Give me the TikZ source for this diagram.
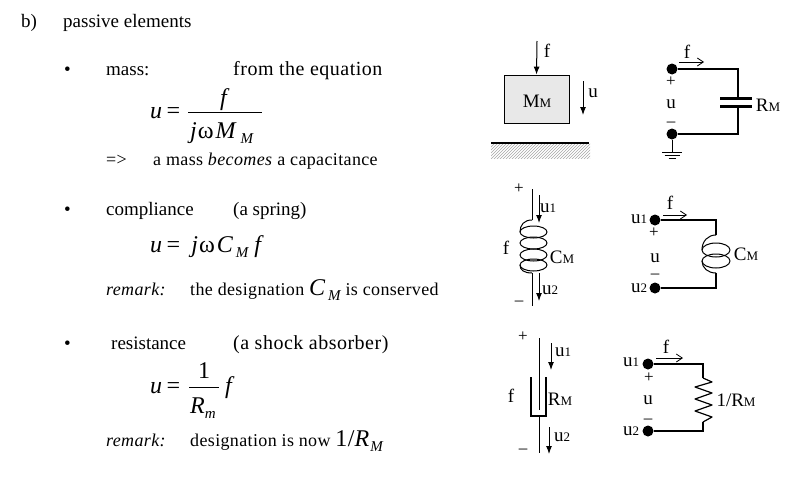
\documentclass[tikz,border=0pt]{standalone}
\usepackage{fontspec}
\setmainfont{Liberation Serif}
\usetikzlibrary{patterns,arrows.meta}

\newcommand{\bodyfont}{\fontsize{19}{22}\selectfont}
\newcommand{\widefont}{\fontsize{20}{22}\selectfont\addfontfeatures{LetterSpace=2.5}}
\newcommand{\notefont}{\fontsize{18}{20}\selectfont\addfontfeatures{LetterSpace=2}}
\newcommand{\eqnfont}{\fontsize{24}{28}\selectfont\itshape}
\newcommand{\subs}[1]{\kern3pt\raisebox{-5pt}{\fontsize{15}{17}\selectfont #1}}
\newcommand{\omg}{\kern1pt\upshape ω\itshape\kern2pt}
\newcommand{\lab}[2]{{\fontsize{19}{20}\selectfont #1\fontsize{13}{14}\selectfont #2}}

\begin{document}
\begin{tikzpicture}[x=1pt,y=-1pt,
txt/.style = {inner sep=0pt, anchor=base west, font=\bodyfont},
wide/.style = {inner sep=0pt, anchor=base west, font=\widefont},
small/.style = {inner sep=0pt, anchor=base west, font=\notefont},
eq/.style = {inner sep=0pt, anchor=base west, font=\eqnfont},
part/.style = {inner sep=0pt, font=\fontsize{19}{20}\selectfont},
sign/.style = {inner sep=0pt, font=\fontsize{17}{19}\selectfont},
term/.style = {circle, fill=black, inner sep=0pt, minimum size=11pt},
wire/.style = {draw, line width=1.4pt},
rod/.style = {draw, line width=1pt},
force/.style = {draw, line width=1pt, -{Latex[length=8pt,width=6pt]}},
motion/.style = {draw, line width=0.8pt, -{Straight Barb[length=6pt,width=8pt]}}]

\useasboundingbox (0,0) rectangle (800,485);

% text, left column
\node [txt] (bb) at (21,27) {b)};
\node [txt] (passive) at (63,27) {passive elements};
\foreach \n/\y in {bulla/75,bullb/215,bullc/349}
  \node [txt] (\n) at (64,\y) {•};

\node [txt] (mass) at (106,75) {mass:};
\node [wide] (from) at (233,75) {from the equation};
\node [eq] (ua) at (150,118) {u\kern3pt=};
\node [eq] (fa) at (220,105) {f};
\coordinate (bara) at (188,112);
\coordinate (barb) at (262,112);
\draw [line width=0.8pt] (bara) -- (barb);
\node [eq] (jw) at (190,138) {j\omg M\kern2pt\subs{M}};
\node [small] (impl) at (106,165) {=>};
\node [small] (becomes) at (153,165) {a mass \textit{becomes} a capacitance};

\node [txt] (compl) at (106,215) {compliance};
\node [txt] (spring) at (233,215) {(a spring)};
\node [eq] (ub) at (150,252) {u\kern3pt=\kern10pt j\omg C\subs{M}\kern6pt f};
\node [small] (rema) at (106,295) {\textit{remark:}};
\node [small] (desa) at (190,295) {the designation {\fontsize{24}{26}\selectfont\itshape C\subs{M}} is conserved};

\node [txt] (resist) at (111,349) {resistance};
\node [wide] (shock) at (233,349) {(a shock absorber)};
\node [eq] (uc) at (150,393) {u\kern3pt=};
\node [eq] (one) at (198,378) {\upshape 1};
\coordinate (barc) at (189,387);
\coordinate (bard) at (219,387);
\draw [line width=0.8pt] (barc) -- (bard);
\node [eq] (rm) at (190,413) {R\kern-3pt\subs{m}};
\node [eq] (fc) at (225,393) {f};
\node [small] (remb) at (106,446) {\textit{remark:}};
\node [small] (desb) at (190,446) {designation is now {\fontsize{24}{26}\selectfont 1/\itshape R\kern-2pt\subs{M}}};

% mass
\node [draw, line width=0.8pt, fill=black!9, minimum width=65pt, minimum height=48pt, inner sep=0pt] (block) at (536.5,99) {};
\node [part] (mm) at (537,101) {\lab{M}{M}};
\coordinate (fatop) at (537,41);
\path [force] (fatop) -- (block.north);
\node [part] (fb) at (547,51) {f};
\coordinate (uatop) at (583,81);
\coordinate (uabot) at (583,115);
\path [force] (uatop) -- (uabot);
\node [part] (ud) at (593,93) {u};
\coordinate (gla) at (491,143);
\coordinate (glb) at (589,143);
\fill [pattern=north east lines, pattern color=black!35] (491,143) rectangle (590,158);
\draw [line width=1.6pt] (gla) -- (glb);

% capacitor circuit
\node [term] (ta) at (672,69) {};
\node [term] (tb) at (672,134) {};
\coordinate (ca) at (738,69);
\coordinate (cb) at (738,134);
\coordinate (pa) at (738,98);
\coordinate (pb) at (738,106);
\path [wire] (ta) -- (ca) -- (pa);
\path [wire] (pb) -- (cb) -- (tb);
\draw [line width=3pt] (720,98) -- (752,98);
\draw [line width=3pt] (720,106) -- (752,106);
\node [part] (rma) at (768,105) {\lab{R}{M}};
\node [part] (fd) at (687,52) {f};
\coordinate (fea) at (679,62);
\coordinate (feb) at (704,62);
\path [motion] (fea) -- (feb);
\node [sign] (pla) at (671,82) {+};
\node [part] (ue) at (671,104) {u};
\node [sign] (mia) at (671,124) {–};
\coordinate (gnd) at (672,152);
\path [rod] (tb) -- (gnd);
\foreach \y/\w in {152/10,155/7.5,158/3.5}
  \draw [line width=0.7pt] (672-\w,\y) -- (672+\w,\y);

% spring
\coordinate (sa) at (532,189);
\coordinate (sb) at (532,220);
\coordinate (sc) at (532,273);
\coordinate (sd) at (532,306);
\path [rod] (sa) -- (sb);
\path [rod] (sc) -- (sd);
\foreach \y in {232,243,255,265}
  \draw [line width=1pt] (533.5,\y) ellipse (13.5pt and 6pt);
\draw [line width=1pt] (sb) .. controls (524,220) and (520,225) .. (520,232);
\draw [line width=1pt] (520,265) .. controls (520,270) and (524,273) .. (sc);
\coordinate (uga) at (539,195);
\coordinate (ugb) at (539,223);
\coordinate (uha) at (539,273);
\coordinate (uhb) at (539,301);
\path [force] (uga) -- (ugb);
\path [force] (uha) -- (uhb);
\node [part] (uf) at (548,208) {\lab{u}{1}};
\node [part] (ug) at (550,290) {\lab{u}{2}};
\node [sign] (plb) at (519,189) {+};
\node [sign] (mib) at (519,303) {–};
\node [part] (fe) at (506,248) {f};
\node [part] (cma) at (562,257) {\lab{C}{M}};

% inductor circuit
\node [term] (tc) at (655,220) {};
\node [term] (td) at (655,288) {};
\coordinate (cc) at (716,220);
\coordinate (cd) at (716,235);
\coordinate (ce) at (716,273);
\coordinate (cf) at (716,288);
\path [wire] (tc) -- (cc) -- (cd);
\path [wire] (ce) -- (cf) -- (td);
\foreach \y in {250,261}
  \draw [line width=1pt] (716,\y) ellipse (14pt and 7pt);
\draw [line width=1pt] (cd) .. controls (708,235) and (702,241) .. (702,250);
\draw [line width=1pt] (702,261) .. controls (702,268) and (708,273) .. (ce);
\node [part] (uh) at (639,219) {\lab{u}{1}};
\node [part] (ui) at (639,288) {\lab{u}{2}};
\node [part] (ff) at (670,203) {f};
\coordinate (fga) at (663,215);
\coordinate (fgb) at (687,215);
\path [motion] (fga) -- (fgb);
\node [sign] (plc) at (654,233) {+};
\node [part] (uj) at (655,258) {u};
\node [sign] (mic) at (655,276) {–};
\node [part] (cmb) at (746,254) {\lab{C}{M}};

% damper
\coordinate (da) at (539,338);
\coordinate (db) at (539,410);
\coordinate (dc) at (539,416);
\coordinate (dd) at (539,453);
\coordinate (cupa) at (531,377);
\coordinate (cupb) at (531,416);
\coordinate (cupc) at (546,416);
\coordinate (cupd) at (546,377);
\path [rod] (da) -- (db);
\path [rod] (dc) -- (dd);
\path [draw, line width=1.2pt] (cupa) -- (cupb) -- (cupc) -- (cupd);
\coordinate (uka) at (551,343);
\coordinate (ukb) at (551,370);
\coordinate (ula) at (549,427);
\coordinate (ulb) at (549,454);
\path [force] (uka) -- (ukb);
\path [force] (ula) -- (ulb);
\node [part] (uk) at (563,352) {\lab{u}{1}};
\node [part] (ul) at (562,437) {\lab{u}{2}};
\node [sign] (pld) at (523,337) {+};
\node [sign] (mid) at (523,451) {–};
\node [part] (fh) at (511,396) {f};
\node [part] (rmb) at (560,399) {\lab{R}{M}};

% resistor circuit
\node [term] (te) at (648,364) {};
\node [term] (tf) at (648,431) {};
\coordinate (cg) at (703,364);
\coordinate (ch) at (703,378);
\coordinate (ci) at (703,422);
\coordinate (cj) at (703,431);
\path [wire] (te) -- (cg) -- (ch);
\path [wire] (ci) -- (cj) -- (tf);
\draw [line width=1.2pt, line join=round] (ch) -- (712,382) -- (695,387) -- (712,393) -- (695,399) -- (712,405) -- (695,411) -- (712,417) -- (ci);
\node [part] (um) at (631,362) {\lab{u}{1}};
\node [part] (un) at (631,431) {\lab{u}{2}};
\node [part] (fi) at (666,347) {f};
\coordinate (fja) at (656,358);
\coordinate (fjb) at (683,358);
\path [motion] (fja) -- (fjb);
\node [sign] (ple) at (649,378) {+};
\node [part] (uo) at (648,400) {u};
\node [sign] (mie) at (648,421) {–};
\node [part] (rmc) at (736,400) {\lab{1/R}{M}};
\end{tikzpicture}
\end{document}
